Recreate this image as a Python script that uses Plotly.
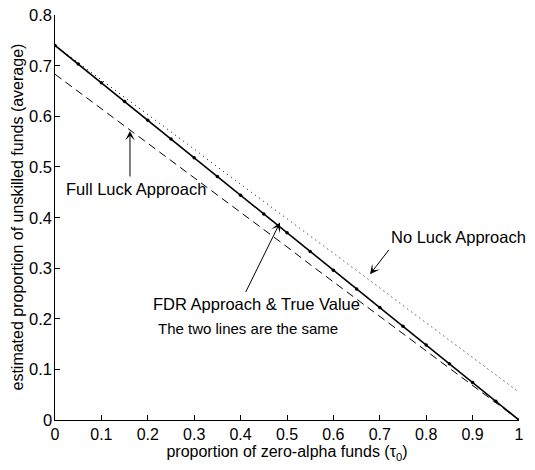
import plotly.graph_objects as go

# ---- data ----
tau = [0.00, 0.05, 0.10, 0.15, 0.20, 0.25, 0.30, 0.35, 0.40, 0.45, 0.50,
       0.55, 0.60, 0.65, 0.70, 0.75, 0.80, 0.85, 0.90, 0.95, 1.00]
true_value = [0.740, 0.703, 0.666, 0.629, 0.592, 0.555, 0.518, 0.481, 0.444, 0.407, 0.370,
              0.333, 0.296, 0.259, 0.222, 0.185, 0.148, 0.111, 0.074, 0.037, 0.000]
fdr_approach = [0.740, 0.703, 0.666, 0.629, 0.592, 0.555, 0.518, 0.481, 0.444, 0.407, 0.370,
                0.333, 0.296, 0.259, 0.222, 0.185, 0.148, 0.111, 0.074, 0.037, 0.000]
no_luck = [0.740, 0.706, 0.672, 0.637, 0.603, 0.569, 0.535, 0.500, 0.466, 0.432, 0.398,
           0.363, 0.329, 0.295, 0.261, 0.226, 0.192, 0.158, 0.124, 0.089, 0.055]
full_luck = [0.683, 0.649, 0.615, 0.581, 0.546, 0.512, 0.478, 0.444, 0.410, 0.376, 0.342,
             0.307, 0.273, 0.239, 0.205, 0.171, 0.137, 0.102, 0.068, 0.034, 0.000]

x_ticks = [0, 0.1, 0.2, 0.3, 0.4, 0.5, 0.6, 0.7, 0.8, 0.9, 1]
x_tick_labels = ["0", "0.1", "0.2", "0.3", "0.4", "0.5", "0.6", "0.7", "0.8", "0.9", "1"]
y_ticks = [0, 0.1, 0.2, 0.3, 0.4, 0.5, 0.6, 0.7, 0.8]
y_tick_labels = ["0", "0.1", "0.2", "0.3", "0.4", "0.5", "0.6", "0.7", "0.8"]

FONT = "Liberation Sans, Arial, Helvetica, sans-serif"

fig = go.Figure()
fig.add_trace(go.Scatter(x=tau, y=no_luck, mode="lines", name="No Luck Approach",
                         line=dict(color="black", width=1, dash="1px,4px")))
fig.add_trace(go.Scatter(x=tau, y=full_luck, mode="lines", name="Full Luck Approach",
                         line=dict(color="black", width=1, dash="8px,5px")))
fig.add_trace(go.Scatter(x=tau, y=fdr_approach, mode="lines", name="FDR Approach",
                         line=dict(color="black", width=1.6)))
fig.add_trace(go.Scatter(x=tau, y=true_value, mode="markers", name="True Value",
                         marker=dict(color="black", size=3.5)))

def arrow(x, y, ax, ay):
    fig.add_annotation(x=x, y=y, ax=ax, ay=ay, xref="x", yref="y", axref="x", ayref="y",
                       text="", showarrow=True, arrowhead=3, arrowsize=1.6,
                       arrowwidth=1, arrowcolor="black", standoff=0, startstandoff=0)

def label(x, y, txt, size=16.5):
    fig.add_annotation(x=x, y=y, xref="x", yref="y", text=txt, showarrow=False,
                       xanchor="left", yanchor="middle",
                       font=dict(family=FONT, size=size, color="black"))

label(0.020, 0.456, "Full Luck Approach")
arrow(0.1616, 0.571, 0.1616, 0.478)

label(0.207, 0.230, "FDR Approach &amp; True Value")
label(0.218, 0.181, "The two lines are the same", size=15)
arrow(0.4849, 0.390, 0.4095, 0.250)

label(0.720, 0.361, "No Luck Approach")
arrow(0.679, 0.288, 0.722, 0.339)

# y tick labels placed close to the axis line (as in the reference)
for v, t in zip(y_ticks, y_tick_labels):
    fig.add_annotation(x=0, y=v, xref="paper", yref="y", text=t, showarrow=False,
                       xanchor="right", yanchor="middle", xshift=-1,
                       font=dict(family=FONT, size=16.5, color="black"))

# y axis title
fig.add_annotation(x=0, y=0.5, xref="paper", yref="paper",
                   text="estimated proportion of unskilled funds (average)",
                   showarrow=False, textangle=-90, xanchor="center", yanchor="middle",
                   xshift=-38, font=dict(family=FONT, size=16, color="black"))

fig.update_layout(
    width=535, height=470,
    margin=dict(l=55, r=16, t=15, b=50),
    paper_bgcolor="white", plot_bgcolor="white",
    showlegend=False,
    font=dict(family=FONT, size=16, color="black"),
    xaxis=dict(range=[0, 1], tickvals=x_ticks, ticktext=x_tick_labels,
               ticks="inside", ticklen=5, tickcolor="black", tickwidth=1,
               showline=True, linecolor="black", linewidth=1.2,
               showgrid=False, zeroline=False, mirror=False,
               tickfont=dict(size=16),
               title=dict(text="proportion of zero-alpha funds (τ<sub>0</sub>)",
                          font=dict(size=16), standoff=3)),
    yaxis=dict(range=[0, 0.8], tickvals=y_ticks, showticklabels=False,
               ticks="inside", ticklen=5, tickcolor="black", tickwidth=1,
               showline=True, linecolor="black", linewidth=1.2,
               showgrid=False, zeroline=False, mirror=False),
)

fig.write_html("out.html")
